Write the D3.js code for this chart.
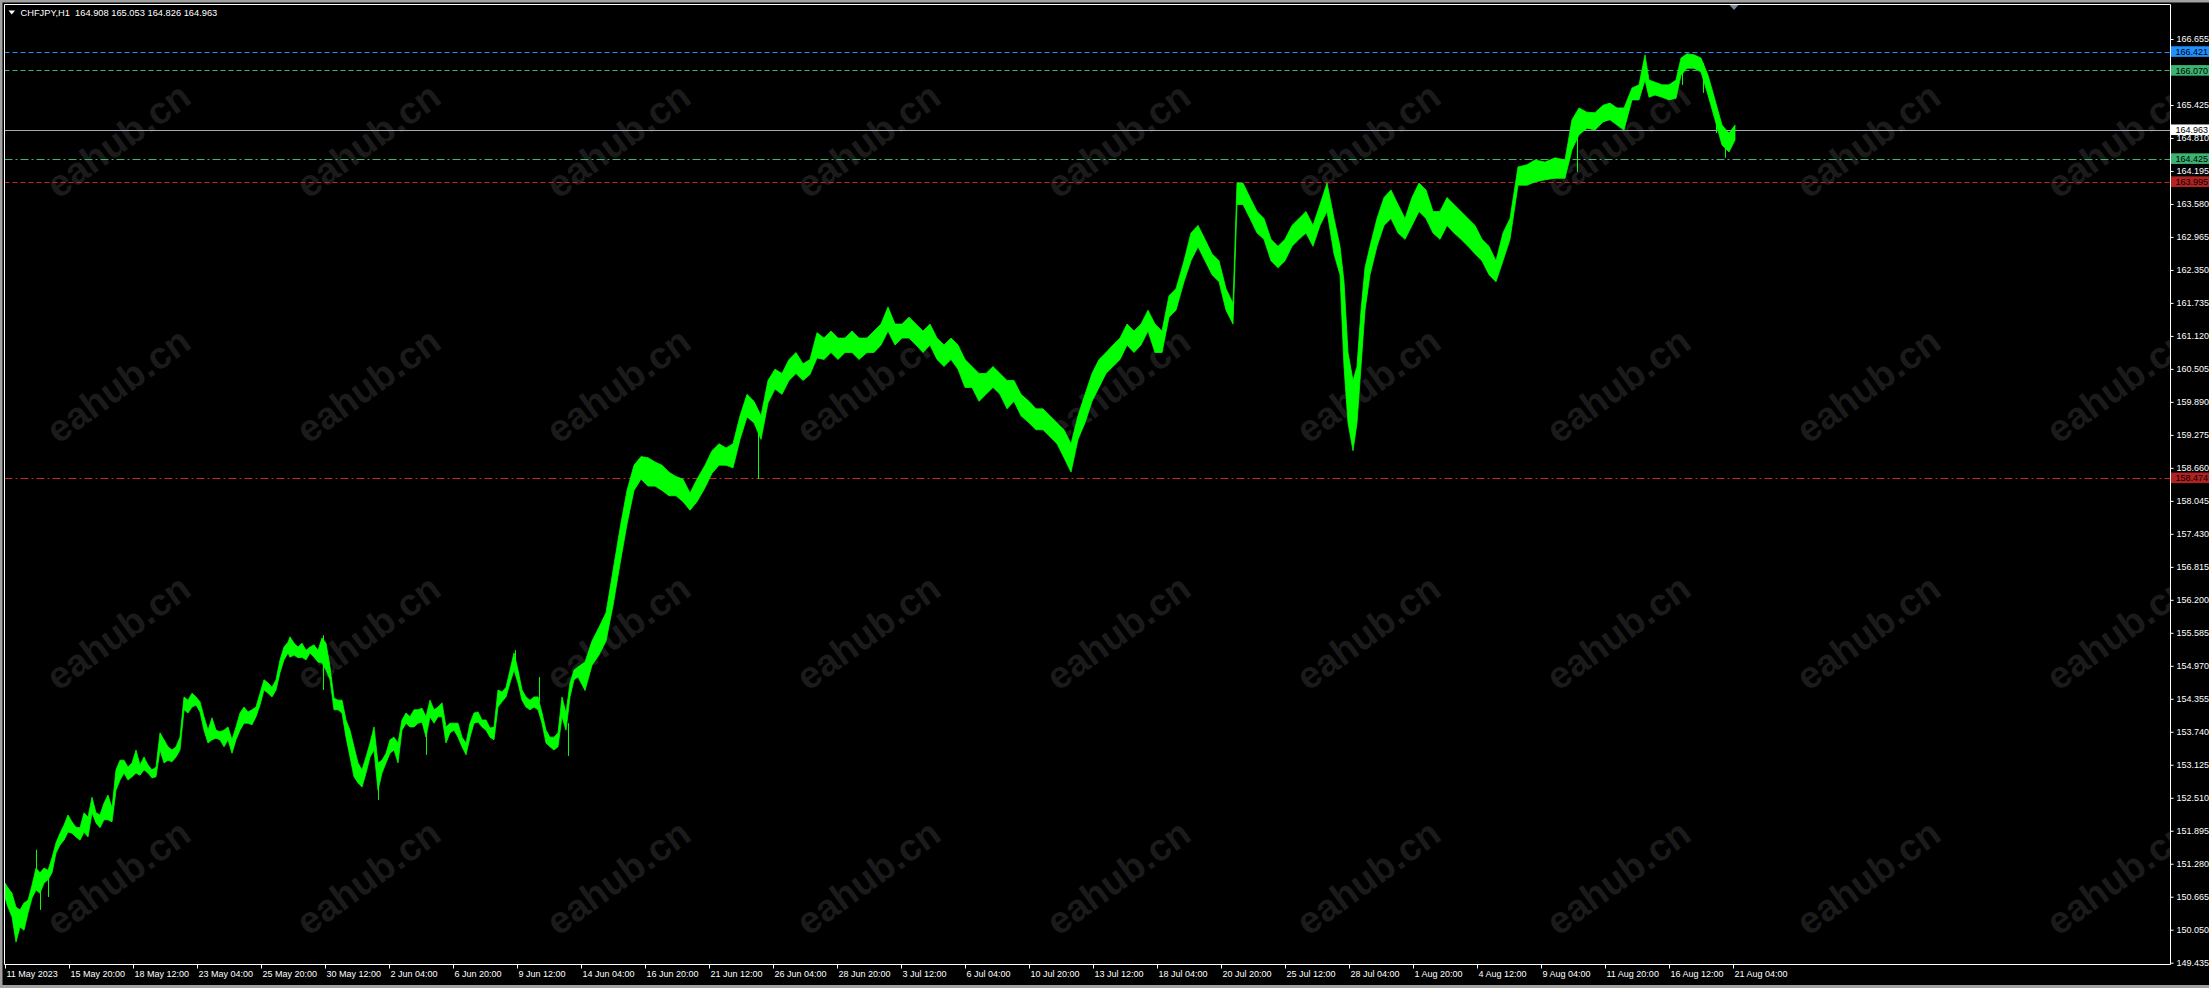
<!DOCTYPE html>
<html><head><meta charset="utf-8">
<script src="https://cdn.jsdelivr.net/npm/d3@7"></script>
<style>html,body{margin:0;padding:0;background:#000;overflow:hidden}svg{display:block}</style>
</head><body>
<svg id="c" width="2209" height="988"></svg>
<script>
// ---------------- DATA ----------------
const symbolTitle = "CHFJPY,H1";
const lastOHLC = ["164.908", "165.053", "164.826", "164.963"];
const timeLabels = ["11 May 2023","15 May 20:00","18 May 12:00","23 May 04:00","25 May 20:00","30 May 12:00","2 Jun 04:00","6 Jun 20:00","9 Jun 12:00","14 Jun 04:00","16 Jun 20:00","21 Jun 12:00","26 Jun 04:00","28 Jun 20:00","3 Jul 12:00","6 Jul 04:00","10 Jul 20:00","13 Jul 12:00","18 Jul 04:00","20 Jul 20:00","25 Jul 12:00","28 Jul 04:00","1 Aug 20:00","4 Aug 12:00","9 Aug 04:00","11 Aug 20:00","16 Aug 12:00","21 Aug 04:00"];
const barsPerLabel = 64;
const priceTicks = ["166.655","166.040","165.425","164.810","164.195","163.580","162.965","162.350","161.735","161.120","160.505","159.890","159.275","158.660","158.045","157.430","156.815","156.200","155.585","154.970","154.355","153.740","153.125","152.510","151.895","151.280","150.665","150.050","149.435"];
const levelPrices = [166.421, 166.070, 164.425, 163.995, 158.474];
const bidPrice = 164.963;

// sampled H1 bars (bar index from the first bar) with high / low envelope
const bars = [0,3,7,11,15,19,23,27,31,35,39,43,47,51,55,59,63,67,71,75,79,83,87,91,95,99,103,107,111,115,119,123,127,131,135,139,143,147,151,155,159,163,167,171,175,179,183,187,191,195,199,203,207,211,215,219,223,227,231,235,239,243,247,251,255,259,263,267,271,275,279,283,
285,289,293,297,301,305,309,313,317,321,325,329,333,337,341,345,349,353,357,361,365,369,373,377,381,385,389,393,397,401,405,409,413,417,421,425,429,433,437,441,445,449,453,457,461,465,469,473,477,481,485,489,493,497,501,505,509,513,517,521,525,529,533,537,541,545,549,553,557,561,565,569,573,
580,587,594,601,608,615,622,629,636,643,650,657,664,671,678,685,692,700,707,714,721,728,735,742,749,756,763,770,777,784,791,798,805,812,819,826,833,840,847,854,862,869,876,883,890,897,904,911,918,925,932,939,946,953,960,967,974,981,988,995,1002,1009,1016,1024,1031,1038,1045,1052,1059,1066,1073,1080,1087,1094,1101,1108,1115,1122,1129,1136,1143,1150,1157,1164,1171,1179,1186,1193,1200,1207,1214,1221,1228,1232,1238,1245,1252,1259,1266,1273,1280,1287,1294,1301,1308,1315,1322,1329,1335,1339,1343,1348,1352,1356,1360,1365,1372,1379,1386,1393,1400,1407,1414,1421,1428,1435,1442,1449,1456,1463,1470,1477,1484,1491,1498,1505,
1513,1522,1530,1540,1550,1560,1567,1574,1582,1590,1598,1605,1612,1619,1627,1634,1640,1644,1650,1657,1664,1671,1676,1682,1689,1696,1703,1710,1717,1724,1730];
const highs = [150.92,150.83,150.73,150.47,150.42,150.55,150.60,150.88,151.20,151.11,151.20,151.16,151.39,151.67,151.85,152.00,152.19,152.06,151.96,151.95,152.23,152.15,152.52,152.23,152.19,152.41,152.56,152.32,153.03,153.21,153.21,153.08,153.16,153.40,153.12,153.27,153.12,153.03,153.08,153.72,153.59,153.46,153.40,153.46,153.64,154.39,154.33,154.46,154.39,154.30,154.02,153.77,154.00,153.77,153.74,153.77,153.83,153.59,153.83,154.09,154.20,154.11,154.15,154.20,154.46,154.71,154.65,154.57,154.71,155.08,155.32,155.41,
155.51,155.39,155.32,155.39,155.26,155.32,155.36,155.26,155.49,155.39,154.95,154.37,154.33,154.33,153.96,153.77,153.46,153.16,153.03,153.27,153.53,153.83,153.16,153.21,153.34,153.59,153.64,153.53,153.96,154.09,154.02,154.15,154.15,154.18,154.02,154.33,154.15,154.20,154.28,153.83,153.90,153.90,153.90,153.64,153.53,153.90,154.09,154.11,153.96,153.96,153.81,153.83,154.52,154.48,154.57,154.89,155.21,154.89,154.52,154.39,154.33,154.39,154.39,154.09,153.77,153.64,153.64,153.72,154.39,154.09,154.65,154.89,154.95,
155.04,155.43,155.69,155.96,156.74,157.53,158.24,158.71,158.87,158.85,158.77,158.71,158.58,158.50,158.45,158.19,158.45,158.71,158.98,159.11,159.03,159.11,159.63,160.03,159.90,159.63,160.29,160.50,160.42,160.68,160.81,160.60,160.68,161.18,161.08,161.21,161.08,161.08,161.21,161.08,161.08,161.21,161.34,161.66,161.34,161.34,161.47,161.34,161.21,161.34,161.08,160.95,161.08,160.95,160.68,160.55,160.42,160.42,160.55,160.42,160.29,160.29,160.03,159.90,159.76,159.76,159.63,159.50,159.37,159.11,159.63,160.03,160.42,160.68,160.81,160.95,161.08,161.34,161.21,161.34,161.60,161.34,161.21,161.87,162.00,162.52,163.04,163.18,162.92,162.65,162.52,162.00,161.73,163.97,163.97,163.70,163.44,163.31,162.92,162.79,162.92,163.18,163.31,163.44,163.18,163.57,163.97,163.31,162.79,162.13,160.81,160.29,160.55,161.60,162.39,162.79,163.31,163.70,163.84,163.57,163.31,163.70,163.97,163.84,163.44,163.44,163.70,163.57,163.44,163.31,163.18,162.92,162.79,162.52,163.04,163.31,
164.27,164.31,164.40,164.36,164.44,164.40,165.15,165.37,165.29,165.28,165.42,165.46,165.37,165.37,165.74,165.80,166.36,165.89,165.85,165.80,165.80,165.89,166.30,166.38,166.36,166.30,165.98,165.52,165.05,164.90,165.05];
const lows = [150.64,150.47,150.29,149.82,150.10,150.04,150.36,150.64,150.79,150.73,150.92,150.98,151.11,151.48,151.63,151.72,151.87,151.85,151.78,151.72,151.87,151.78,152.23,152.04,151.95,152.10,152.10,152.06,152.65,152.84,152.97,152.84,152.90,152.97,152.93,153.03,152.97,152.88,152.90,153.40,153.16,153.21,153.18,153.27,153.40,154.15,154.09,154.20,154.24,154.11,153.77,153.53,153.59,153.62,153.59,153.46,153.59,153.34,153.59,153.77,153.90,153.90,153.87,154.02,154.24,154.52,154.46,154.39,154.52,154.84,155.08,155.21,
155.13,155.17,155.12,155.13,155.08,155.21,155.13,155.04,155.02,154.89,154.71,154.15,154.15,154.09,153.64,153.27,152.90,152.79,152.71,152.97,153.27,153.40,152.65,152.97,153.16,153.34,153.40,153.16,153.77,153.90,153.83,153.83,153.90,153.92,153.64,154.02,153.90,154.02,154.02,153.53,153.72,153.77,153.64,153.46,153.31,153.64,153.90,153.92,153.83,153.77,153.64,153.59,154.20,154.30,154.39,154.65,154.89,154.65,154.33,154.20,154.15,154.20,154.15,153.90,153.53,153.46,153.40,153.46,154.02,153.77,154.39,154.71,154.76,
154.51,154.98,155.17,155.43,156.09,156.87,157.61,158.24,158.45,158.32,158.32,158.24,158.14,158.14,158.03,157.87,158.03,158.29,158.56,158.71,158.71,158.66,159.19,159.61,159.50,159.19,159.87,160.13,160.03,160.29,160.42,160.29,160.40,160.71,160.68,160.81,160.68,160.81,160.81,160.68,160.81,160.81,160.95,161.21,160.95,161.08,161.08,160.95,160.81,160.95,160.68,160.55,160.68,160.50,160.16,160.16,159.90,160.03,160.16,160.03,159.76,159.90,159.63,159.50,159.37,159.37,159.24,159.11,158.85,158.58,159.19,159.50,159.90,160.16,160.42,160.55,160.68,160.95,160.81,160.95,161.21,160.81,160.81,161.47,161.60,162.13,162.52,162.78,162.52,162.26,162.13,161.60,161.34,163.57,163.57,163.31,163.04,162.92,162.52,162.39,162.52,162.79,162.92,163.04,162.79,163.18,163.44,162.65,162.26,160.55,159.50,158.98,159.50,160.55,161.60,162.26,162.79,163.18,163.31,163.04,162.92,163.18,163.44,163.31,163.04,162.92,163.18,163.04,162.92,162.79,162.65,162.52,162.26,162.13,162.52,162.92,
163.93,163.93,163.99,164.03,164.06,164.06,164.59,164.87,164.99,164.96,165.11,165.15,165.05,164.96,165.52,165.52,165.89,165.57,165.61,165.57,165.52,165.55,165.98,166.11,166.11,166.04,165.61,165.15,164.68,164.55,164.77];

// single long-wick bars sticking out of the envelope
const wickBars  = [31, 35, 43, 318, 373, 421, 510, 534, 563, 753, 1572, 1677, 1698, 1711, 1720];
const wickHighs = [151.54, 151.00, 151.10, 155.54, 153.10, 154.00, 155.26, 154.76, 153.90, 159.60, 165.20, 166.30, 166.20, 165.40, 164.90];
const wickLows  = [151.00, 150.42, 150.66, 154.52, 152.47, 153.31, 154.90, 154.30, 153.29, 158.45, 164.18, 165.80, 165.65, 164.90, 164.44];

// ---------------- DRAW ----------------
const W = 2209, H = 988;
const FONT = "'Liberation Sans', Arial, sans-serif";
const frame = {left: 4.5, top: 4.5, right: 2170.5, bottom: 964.5};
const svg = d3.select("#c");

svg.append("rect").attr("width", W).attr("height", H).attr("fill", "#000");
// window border
svg.append("rect").attr("x", 0).attr("y", 0).attr("width", W).attr("height", 2.5).attr("fill", "#a0a0a0");
svg.append("rect").attr("x", 0).attr("y", 0).attr("width", 2.5).attr("height", H).attr("fill", "#a0a0a0");
svg.append("rect").attr("x", 0).attr("y", H - 3).attr("width", W).attr("height", 3).attr("fill", "#a0a0a0");

const x = d3.scaleLinear().domain([0, 2165]).range([5, 2170]);
const y = d3.scaleLinear().domain([149.435, 166.655]).range([962.7, 39]);

// clip
svg.append("defs").append("clipPath").attr("id", "plot")
  .append("rect").attr("x", frame.left + 0.5).attr("y", frame.top + 0.5)
  .attr("width", frame.right - frame.left - 1).attr("height", frame.bottom - frame.top - 1);

const plot = svg.append("g").attr("clip-path", "url(#plot)");

// watermark
const wmX = d3.range(9).map(i => 118 + 250 * i);
const wmY = [140, 385, 632, 877];
wmY.forEach(wy => wmX.forEach(wx => {
  plot.append("text").attr("transform", `translate(${wx},${wy}) rotate(-36)`)
    .attr("text-anchor", "middle").attr("dy", "0.35em")
    .attr("font-family", FONT).attr("font-weight", "bold").attr("font-size", 38)
    .attr("fill", "#1b1b1b").text("eahub.cn");
}));

// horizontal levels
const levelStyle = [
  {color: "#1e90ff", dash: "5,3"},
  {color: "#3cb371", dash: "5,3"},
  {color: "#3cb371", dash: "8,3,2,3"},
  {color: "#c0282d", dash: "5,3"},
  {color: "#c0282d", dash: "8,3,2,3"}
];
levelPrices.forEach((p, i) => {
  plot.append("line").attr("x1", frame.left).attr("x2", frame.right)
    .attr("y1", Math.round(y(p)) + 0.5).attr("y2", Math.round(y(p)) + 0.5)
    .attr("stroke", levelStyle[i].color).attr("stroke-width", 1)
    .attr("stroke-dasharray", levelStyle[i].dash);
});
plot.append("line").attr("x1", frame.left).attr("x2", frame.right)
  .attr("y1", Math.round(y(bidPrice)) + 0.5).attr("y2", Math.round(y(bidPrice)) + 0.5)
  .attr("stroke", "#a8a8b4").attr("stroke-width", 1);

// price bars envelope
const series = bars.map((b, i) => ({b, h: highs[i], l: lows[i]}));
const area = d3.area().x(d => x(d.b)).y0(d => y(d.l)).y1(d => y(d.h));
plot.append("path").datum(series).attr("d", area)
  .attr("fill", "#00ff00").attr("stroke", "#00ff00").attr("stroke-width", 0.8);

// long wicks
plot.selectAll("line.wick").data(wickBars.map((b, i) => ({b, h: wickHighs[i], l: wickLows[i]})))
  .join("line").attr("class", "wick")
  .attr("x1", d => Math.round(x(d.b)) + 0.5).attr("x2", d => Math.round(x(d.b)) + 0.5)
  .attr("y1", d => y(d.h)).attr("y2", d => y(d.l))
  .attr("stroke", "#00ff00").attr("stroke-width", 1);

// frame
const fg = svg.append("g").attr("stroke", "#fff").attr("stroke-width", 1);
fg.append("line").attr("x1", frame.left).attr("x2", frame.right).attr("y1", frame.top).attr("y2", frame.top);
fg.append("line").attr("x1", frame.left).attr("x2", frame.left).attr("y1", frame.top).attr("y2", frame.bottom);
fg.append("line").attr("x1", frame.right).attr("x2", frame.right).attr("y1", frame.top).attr("y2", frame.bottom);
fg.append("line").attr("x1", frame.left).attr("x2", frame.right).attr("y1", frame.bottom).attr("y2", frame.bottom);

// right price axis
const yAxis = d3.axisRight(y).tickValues(priceTicks.map(Number)).tickSize(3).tickPadding(3)
  .tickFormat((d, i) => priceTicks[i]);
const ya = svg.append("g").attr("transform", `translate(${frame.right},0)`).call(yAxis);
ya.select(".domain").remove();
ya.selectAll("line").attr("stroke", "#fff");
ya.selectAll("text").attr("fill", "#fff").attr("font-family", FONT).attr("font-size", 9);

// bottom time axis
const tickBars = timeLabels.map((t, i) => i * barsPerLabel);
const xAxis = d3.axisBottom(x).tickValues(tickBars).tickSize(4).tickPadding(2)
  .tickFormat((d, i) => timeLabels[i]);
const xa = svg.append("g").attr("transform", `translate(0,${frame.bottom})`).call(xAxis);
xa.select(".domain").remove();
xa.selectAll("line").attr("stroke", "#fff");
xa.selectAll("text").attr("fill", "#fff").attr("font-family", FONT).attr("font-size", 9)
  .attr("text-anchor", "start").attr("dx", 1);

// price labels of levels
const labelFill = ["#1e90ff", "#3cb371", "#3cb371", "#b22222", "#b22222"];
const labelText = ["#000", "#000", "#000", "#000", "#000"];
const allLabels = levelPrices.map((p, i) => ({p, bg: labelFill[i], fg: labelText[i]}));
allLabels.push({p: bidPrice, bg: "#ffffff", fg: "#000"});
allLabels.forEach(d => {
  const cy = y(d.p);
  svg.append("rect").attr("x", frame.right + 0.5).attr("y", cy - 5.3).attr("width", W - frame.right).attr("height", 10.6).attr("fill", d.bg);
  svg.append("text").attr("x", 2175.5).attr("y", cy).attr("dy", "0.35em")
    .attr("font-family", FONT).attr("font-size", 9).attr("fill", d.fg).text(d.p.toFixed(3));
});

// title
svg.append("path").attr("d", "M8.5,10.5 L15,10.5 L11.75,14.5 Z").attr("fill", "#fff");
svg.append("text").attr("x", 20.5).attr("y", 16).attr("font-family", FONT).attr("font-size", 9.3)
  .attr("fill", "#fff").attr("xml:space", "preserve")
  .text(symbolTitle + "  " + lastOHLC.join(" "));

// chart shift marker
const shiftBar = 1729;
svg.append("path").attr("d", `M${x(shiftBar) - 4.5},5 L${x(shiftBar) + 4.5},5 L${x(shiftBar)},10 Z`).attr("fill", "#778899");
</script>
</body></html>
